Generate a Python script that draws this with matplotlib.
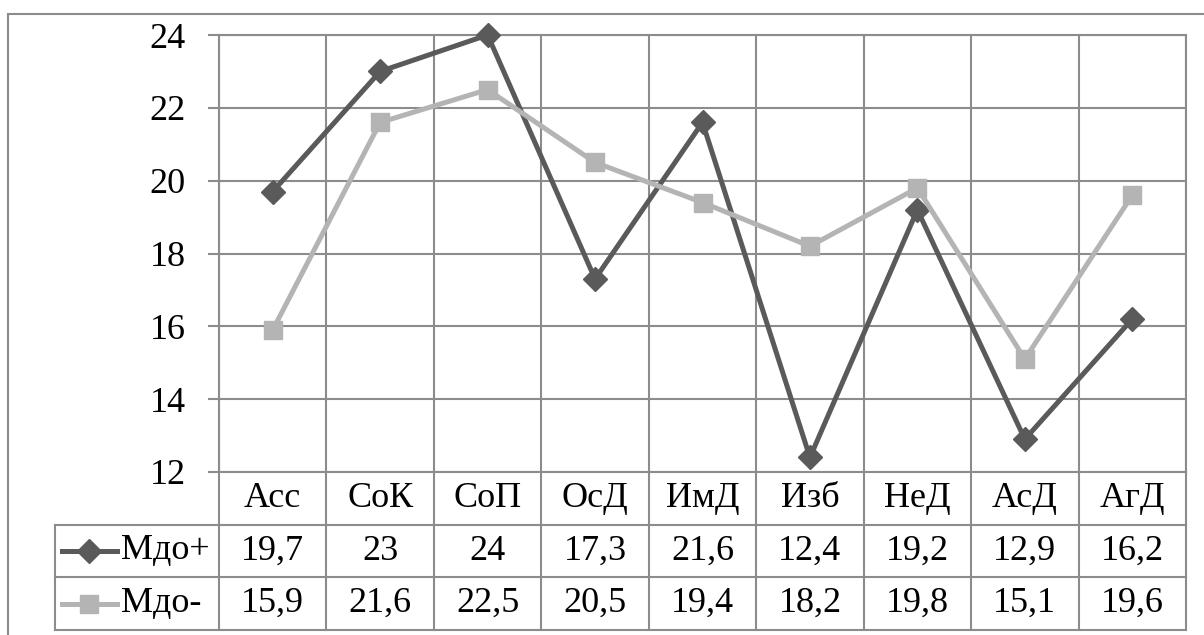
import matplotlib
matplotlib.use("Agg")
import matplotlib.pyplot as plt
import numpy as np
from matplotlib.lines import Line2D

plt.rcParams["font.family"] = ["Liberation Serif", "DejaVu Serif"]

categories = ["Асс", "СоК", "СоП", "ОсД", "ИмД", "Изб", "НеД", "АсД", "АгД"]
series_names = ["Мдо+", "Мдо-"]
m_plus = [19.7, 23, 24, 17.3, 21.6, 12.4, 19.2, 12.9, 16.2]
m_minus = [15.9, 21.6, 22.5, 20.5, 19.4, 18.2, 19.8, 15.1, 19.6]
y_ticks = [12, 14, 16, 18, 20, 22, 24]

DARK = "#5a5a5a"
LIGHT = "#b4b4b4"
GRID = "#8c8c8c"
FS = 26

W, H = 1204, 635
fig = plt.figure(figsize=(W / 100, H / 100), dpi=100)


def fx(px):
    return px / W


def fy(py):
    return 1 - py / H


# plot area in pixels
PL, PR, PT, PB = 219, 1186, 35, 472
TL, TB = 55, 630

ax = fig.add_axes([fx(PL), fy(PB), fx(PR - PL), (PB - PT) / H])
n = len(categories)
x = np.arange(n) + 0.5
styles = [(m_plus, DARK, "D", 12), (m_minus, LIGHT, "s", 13)]
for vals, col, mk, ms in styles:
    ax.plot(x, vals, color=col, lw=3.6, marker=mk, ms=ms, mec=col, mfc=col,
            zorder=3, clip_on=False)

ax.set_xlim(0, n)
ax.set_ylim(y_ticks[0], y_ticks[-1])
ax.set_yticks(y_ticks)
ax.set_yticklabels([str(t) for t in y_ticks], fontsize=FS)
ax.set_xticks(np.arange(n + 1))
ax.set_xticklabels([])
ax.tick_params(axis="x", length=0)
ax.tick_params(axis="y", length=8, width=1.5, color=GRID, pad=16)
ax.grid(True, color=GRID, lw=1.5)
for s in ax.spines.values():
    s.set_color(GRID)
    s.set_linewidth(1.5)

# data table below the plot
cw = (PR - PL) / n
tx0 = -(PL - TL) / cw
tax = fig.add_axes([fx(TL), fy(TB), fx(PR - TL), (TB - PB) / H])
tax.set_xlim(tx0, n)
tax.set_ylim(3, 0)
tax.axis("off")
lk = dict(color=GRID, lw=1.5, clip_on=False)
for r in (1, 2, 3):
    tax.plot([tx0, n], [r, r], **lk)
for c in range(n + 1):
    tax.plot([c, c], [0, 3], **lk)
tax.plot([tx0, tx0], [1, 3], **lk)

for i, cat in enumerate(categories):
    tax.text(i + 0.5, 0.5, cat, ha="center", va="center", fontsize=FS)

for r, ((vals, col, mk, ms), name) in enumerate(zip(styles, series_names), start=1):
    for i, v in enumerate(vals):
        tax.text(i + 0.5, r + 0.5, f"{v:g}".replace(".", ","),
                 ha="center", va="center", fontsize=FS)
    lx0 = tx0 + 7 / cw
    lx1 = tx0 + 62 / cw
    tax.plot([lx0, lx1], [r + 0.5, r + 0.5], color=col, lw=3.6, clip_on=False)
    tax.plot([(lx0 + lx1) / 2], [r + 0.5], marker=mk, ms=ms, color=col,
             clip_on=False)
    tax.text(tx0 + 66 / cw, r + 0.5, name, ha="left", va="center", fontsize=FS)

# outer chart border (cropped at right and bottom)
fig.add_artist(Line2D([fx(8), fx(8)], [fy(14), 0], color=GRID, lw=1.5))
fig.add_artist(Line2D([fx(8), 1], [fy(14), fy(14)], color=GRID, lw=1.5))

fig.savefig("out.png", dpi=100, facecolor="white")
